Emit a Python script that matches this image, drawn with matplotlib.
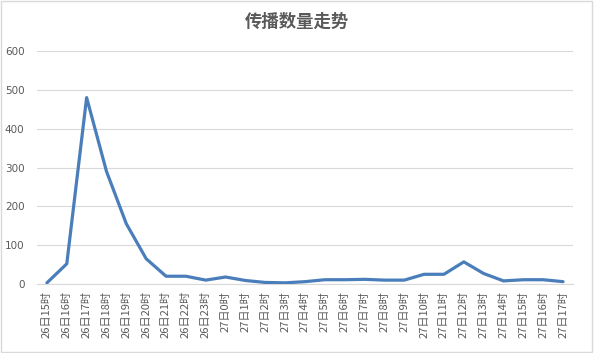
import matplotlib
matplotlib.use('agg')
import matplotlib.pyplot as plt
import matplotlib.patches as patches

plt.rcParams['font.family'] = ['Noto Sans CJK SC', 'DejaVu Sans']

# hourly labels, 26th 15h .. 27th 17h
hours = [f'26日{h}时' for h in range(15, 24)] + [f'27日{h}时' for h in range(0, 18)]
counts = [3, 52, 480, 290, 155, 65, 20, 20, 10,
          18, 9, 4, 3, 6, 11, 11, 12, 10, 10,
          25, 25, 57, 27, 8, 11, 11, 6]
yticks = [0, 100, 200, 300, 400, 500, 600]

fig = plt.figure(figsize=(5.94, 3.53), dpi=100)
ax = fig.add_axes([37/594, 1-284/353, (573-37)/594, (284-51)/353])

x = list(range(len(hours)))
ax.plot(x, counts, color='#4a7ebb', lw=2.3, solid_joinstyle='round', solid_capstyle='round', zorder=3)

ax.set_xlim(-0.5, len(hours)-0.5)
ax.set_ylim(0, 600)
ax.set_yticks(yticks)
ax.set_yticklabels([str(v) for v in yticks], fontsize=7.5, color='#595959', family='DejaVu Sans')
ax.set_xticks(x)
ax.set_xticklabels(hours, rotation=90, fontsize=8, color='#595959', ha='center', va='top')
ax.tick_params(axis='y', length=0, pad=9)
ax.tick_params(axis='x', length=0, pad=5)
ax.grid(axis='y', color='#d9d9d9', lw=0.8)
ax.set_axisbelow(True)
for s in ['top', 'right', 'left']:
    ax.spines[s].set_visible(False)
ax.spines['bottom'].set_color('#d9d9d9')
ax.spines['bottom'].set_linewidth(0.8)

fig.text(0.5, 1-22/353, '传播数量走势', ha='center', va='center', fontsize=12.5,
         fontweight='bold', color='#595959')

# outer chart border
fig.patches.append(patches.Rectangle((0.002, 0.003), 0.995, 0.994, transform=fig.transFigure,
                                     fill=False, edgecolor='#d9d9d9', lw=1))

fig.savefig('out.png', dpi=100)
